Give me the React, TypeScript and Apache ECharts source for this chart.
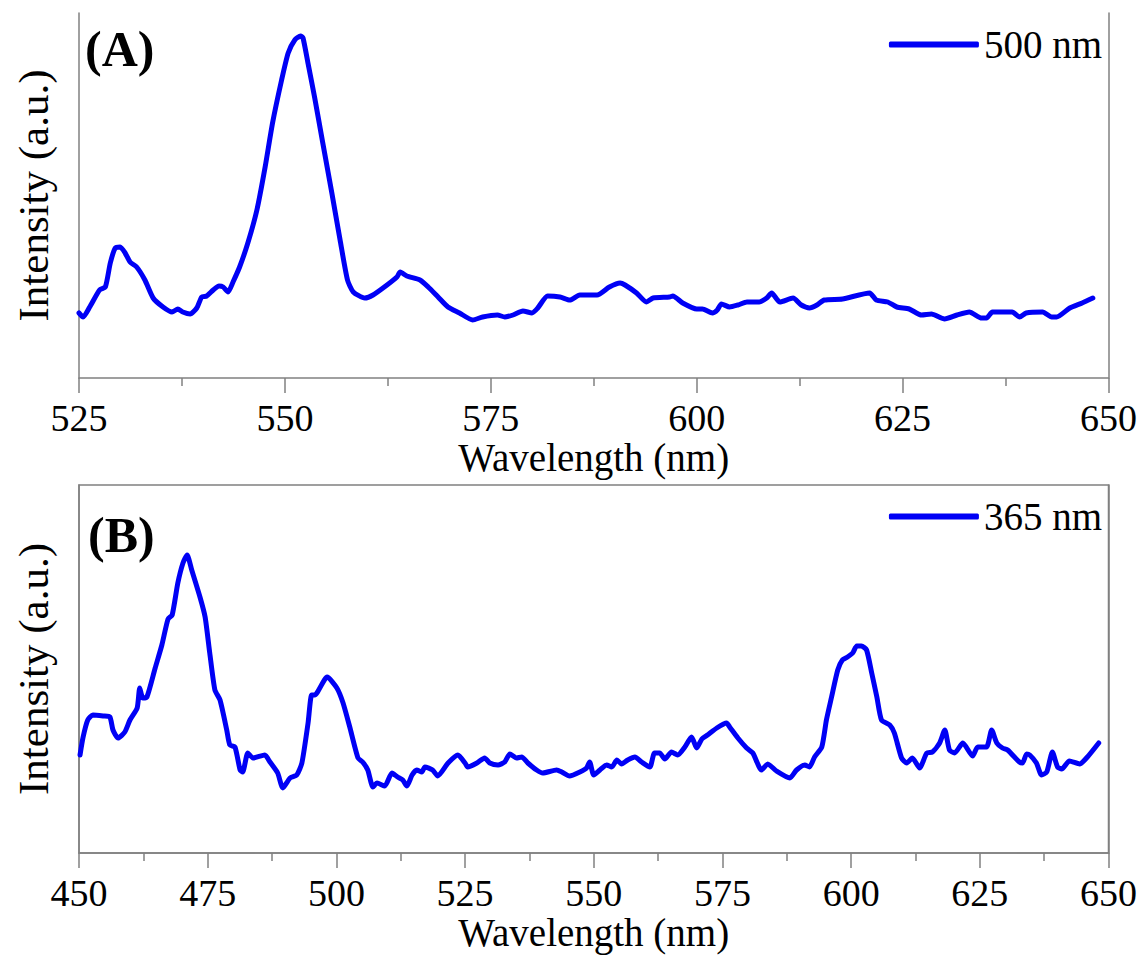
import React, { useEffect, useRef } from "react";
import * as echarts from "echarts";

// Panel A (excitation 500 nm)
const wavelengthA = [
  525.0, 525.5, 526.3, 527.5, 528.2, 528.8, 529.4, 530.0, 530.6, 531.2, 532.0, 533.0, 534.0, 535.2, 536.3, 537.0,
  537.6, 538.5, 539.3, 539.9, 540.5, 541.3, 542.0, 542.5, 543.1, 543.7, 544.5, 545.5, 546.6, 547.6, 548.5, 549.6,
  550.4, 551.2, 551.9, 552.2, 552.8, 553.6, 554.6, 555.7, 556.7, 557.6, 558.3, 559.7, 560.7, 562.4, 563.6, 564.0,
  564.8, 566.4, 567.4, 568.6, 569.8, 571.2, 572.8, 574.0, 575.8, 576.7, 577.7, 578.9, 580.0, 580.7, 581.9, 583.4,
  584.6, 585.8, 587.9, 589.4, 590.7, 591.3, 592.7, 593.9, 594.7, 596.7, 597.1, 598.3, 600.0, 600.7, 601.9, 602.5,
  603.0, 604.0, 605.0, 606.1, 607.6, 608.5, 609.1, 610.1, 611.7, 612.7, 613.7, 614.6, 615.5, 617.7, 621.0, 621.8,
  623.2, 624.3, 625.8, 627.3, 628.5, 630.1, 631.6, 633.1, 634.6, 635.2, 635.9, 638.3, 639.2, 640.0, 642.0, 643.1,
  643.7, 645.3, 646.8, 648.1,
];
const intensityA = [
  65, 61, 71, 88, 91, 115, 130, 131, 125, 116, 111, 98, 80, 71, 66, 69,
  66, 64, 70, 81, 82, 88, 92, 91, 86, 96, 111, 135, 168, 211, 255, 298,
  325, 338, 342, 340, 315, 281, 235, 185, 138, 98, 86, 80, 83, 93, 101, 106,
  102, 98, 91, 81, 71, 65, 58, 61, 63, 61, 63, 67, 65, 70, 82, 81,
  78, 83, 83, 91, 95, 93, 85, 76, 80, 81, 82, 75, 69, 69, 65, 68,
  74, 71, 73, 76, 76, 80, 85, 76, 80, 73, 70, 73, 78, 79, 85, 78,
  76, 71, 69, 63, 64, 59, 63, 66, 60, 60, 66, 66, 61, 65, 66, 61,
  61, 70, 75, 80,
];

// Panel B (excitation 365 nm)
const wavelengthB = [
  450.2, 450.8, 451.7, 452.7, 454.7, 456.0, 456.6, 457.6, 458.9, 459.9, 461.3, 461.8, 462.4, 463.2, 464.8, 466.1,
  467.3, 468.1, 469.2, 470.2, 471.0, 471.9, 473.5, 474.5, 475.4, 476.4, 477.4, 478.7, 479.3, 480.3, 481.3, 481.8,
  482.8, 483.8, 486.1, 487.1, 488.6, 489.6, 491.0, 492.3, 493.3, 494.5, 495.2, 495.8, 498.2, 500.1, 501.3, 502.6,
  504.2, 505.1, 506.1, 507.1, 507.9, 509.4, 510.8, 511.9, 512.9, 513.7, 514.7, 515.6, 516.6, 517.2, 518.7, 519.7,
  521.7, 523.6, 525.0, 525.5, 527.3, 528.8, 529.8, 531.4, 532.7, 533.7, 535.0, 536.0, 537.2, 538.9, 540.1, 542.8,
  543.8, 545.3, 547.3, 548.6, 549.2, 550.0, 551.2, 552.5, 553.5, 554.5, 555.4, 556.6, 558.0, 559.3, 560.9, 561.8,
  562.8, 563.8, 565.1, 566.3, 567.7, 569.0, 570.0, 571.0, 572.1, 573.9, 575.8, 576.4, 578.0, 579.7, 580.9, 582.6,
  583.8, 585.5, 588.1, 589.4, 591.0, 591.9, 592.9, 594.3, 595.2, 596.2, 597.4, 598.3, 599.3, 600.3, 601.1, 602.0,
  603.0, 604.0, 605.0, 605.9, 607.5, 608.4, 609.8, 610.8, 611.9, 613.3, 614.7, 615.8, 617.2, 618.2, 619.1, 620.1,
  621.7, 623.6, 624.6, 626.3, 627.3, 628.3, 629.4, 630.4, 632.7, 633.3, 634.1, 634.7, 636.0, 637.0, 638.0, 639.1,
  640.1, 640.9, 642.4, 644.4, 645.9, 648.1,
];
const intensityB = [
  98, 116, 133, 138, 137, 136, 123, 115, 121, 133, 145, 165, 155, 156, 185, 208,
  234, 238, 270, 290, 298, 283, 256, 236, 200, 163, 153, 123, 108, 106, 83, 81,
  100, 95, 98, 91, 80, 65, 75, 78, 90, 130, 158, 158, 176, 165, 150, 126,
  95, 91, 83, 66, 70, 67, 80, 76, 73, 67, 78, 83, 81, 86, 83, 77,
  90, 98, 90, 86, 90, 95, 90, 88, 91, 99, 95, 96, 90, 83, 80, 83,
  81, 77, 81, 85, 91, 78, 83, 88, 86, 93, 89, 93, 96, 91, 86, 100,
  100, 94, 101, 98, 106, 116, 105, 114, 118, 125, 130, 126, 115, 105, 100, 83,
  89, 82, 75, 83, 88, 86, 96, 106, 133, 156, 183, 193, 196, 200, 207, 207,
  203, 180, 156, 133, 128, 120, 95, 90, 95, 85, 100, 101, 110, 123, 103, 100,
  110, 97, 106, 106, 123, 110, 105, 103, 91, 90, 99, 98, 90, 78, 81, 101,
  86, 84, 92, 89, 96, 110,
];

const seriesNames = ["500 nm", "365 nm"];
const panelLabels = ["(A)", "(B)"];
const xRangeA = [525, 650];
const xRangeB = [450, 650];
const xInterval = 25;
const xTitle = "Wavelength (nm)";
const yTitle = "Intensity (a.u.)";

const FONT = "'Liberation Serif', 'Times New Roman', serif";
const AXIS_COLOR = "#808080";
const LINE_COLOR = "#0000f5";

function xAxisCfg(gridIndex: number, range: number[]) {
  return {
    type: "value",
    gridIndex,
    min: range[0],
    max: range[1],
    interval: xInterval,
    position: "bottom",
    name: xTitle,
    nameLocation: "middle",
    nameGap: gridIndex === 0 ? 58 : 59,
    nameTextStyle: { fontFamily: FONT, fontSize: 39, color: "#000" },
    axisLine: { show: true, onZero: false, lineStyle: { color: AXIS_COLOR, width: 1.5 } },
    axisTick: { show: true, inside: false, length: 15, lineStyle: { color: AXIS_COLOR, width: 1.5 } },
    minorTick: { show: true, splitNumber: 2, length: 8, lineStyle: { color: AXIS_COLOR, width: 1.5 } },
    axisLabel: { show: true, margin: 21, fontFamily: FONT, fontSize: 38, color: "#000", showMinLabel: true, showMaxLabel: true },
    splitLine: { show: false },
  };
}

function yAxisLeft(gridIndex: number, max: number) {
  return {
    type: "value",
    gridIndex,
    min: 0,
    max,
    position: "left",
    name: yTitle,
    nameLocation: "middle",
    nameGap: 24,
    nameTextStyle: { fontFamily: FONT, fontSize: 43, color: "#000" },
    axisLine: { show: true, onZero: false, lineStyle: { color: AXIS_COLOR, width: 1.5 } },
    axisTick: { show: false },
    axisLabel: { show: false },
    splitLine: { show: false },
  };
}

function yAxisRight(gridIndex: number, max: number) {
  return {
    type: "value",
    gridIndex,
    min: 0,
    max,
    position: "right",
    axisLine: { show: true, onZero: false, lineStyle: { color: AXIS_COLOR, width: 1.5 } },
    axisTick: { show: false },
    axisLabel: { show: false },
    splitLine: { show: false },
  };
}

export default function App() {
  const ref = useRef<HTMLDivElement>(null);

  useEffect(() => {
    if (!ref.current) return;
    const chart = echarts.init(ref.current, null, { renderer: "svg" });
    const dataA = wavelengthA.map((w, i) => [w, intensityA[i]]);
    const dataB = wavelengthB.map((w, i) => [w, intensityB[i]]);

    const legendCfg = (name: string, top: number) => ({
      data: [name],
      right: 38,
      top,
      padding: 0,
      icon: "roundRect",
      itemWidth: 90,
      itemHeight: 6,
      itemStyle: { color: LINE_COLOR },
      textStyle: { fontFamily: FONT, fontSize: 39, color: "#000" },
      selectedMode: false,
    });

    const lineSeries = (name: string, data: number[][], xi: number, yi: number) => ({
      name,
      type: "line",
      xAxisIndex: xi,
      yAxisIndex: yi,
      data,
      showSymbol: false,
      symbol: "none",
      smooth: 0.2,
      lineStyle: { color: LINE_COLOR, width: 5, cap: "round", join: "round" },
      itemStyle: { color: LINE_COLOR },
    });

    chart.setOption({
      animation: false,
      backgroundColor: "#fff",
      grid: [
        { left: 79, top: 13, width: 1030, height: 365, containLabel: false },
        { left: 79, top: 485, width: 1030, height: 368, containLabel: false, show: true, borderColor: AXIS_COLOR, borderWidth: 1.5 },
      ],
      xAxis: [xAxisCfg(0, xRangeA), xAxisCfg(1, xRangeB)],
      yAxis: [yAxisLeft(0, 365), yAxisRight(0, 365), yAxisLeft(1, 368), yAxisRight(1, 368)],
      legend: [legendCfg(seriesNames[0], 25), legendCfg(seriesNames[1], 497)],
      series: [lineSeries(seriesNames[0], dataA, 0, 0), lineSeries(seriesNames[1], dataB, 1, 2)],
      graphic: [
        { type: "text", left: 85, top: 24, style: { text: panelLabels[0], fontFamily: FONT, fontSize: 50, fontWeight: "bold", fill: "#000" } },
        { type: "text", left: 88, top: 510, style: { text: panelLabels[1], fontFamily: FONT, fontSize: 50, fontWeight: "bold", fill: "#000" } },
      ],
    });

    return () => chart.dispose();
  }, []);

  return <div ref={ref} style={{ position: "absolute", left: 0, top: 0, width: 1140, height: 955 }} />;
}
